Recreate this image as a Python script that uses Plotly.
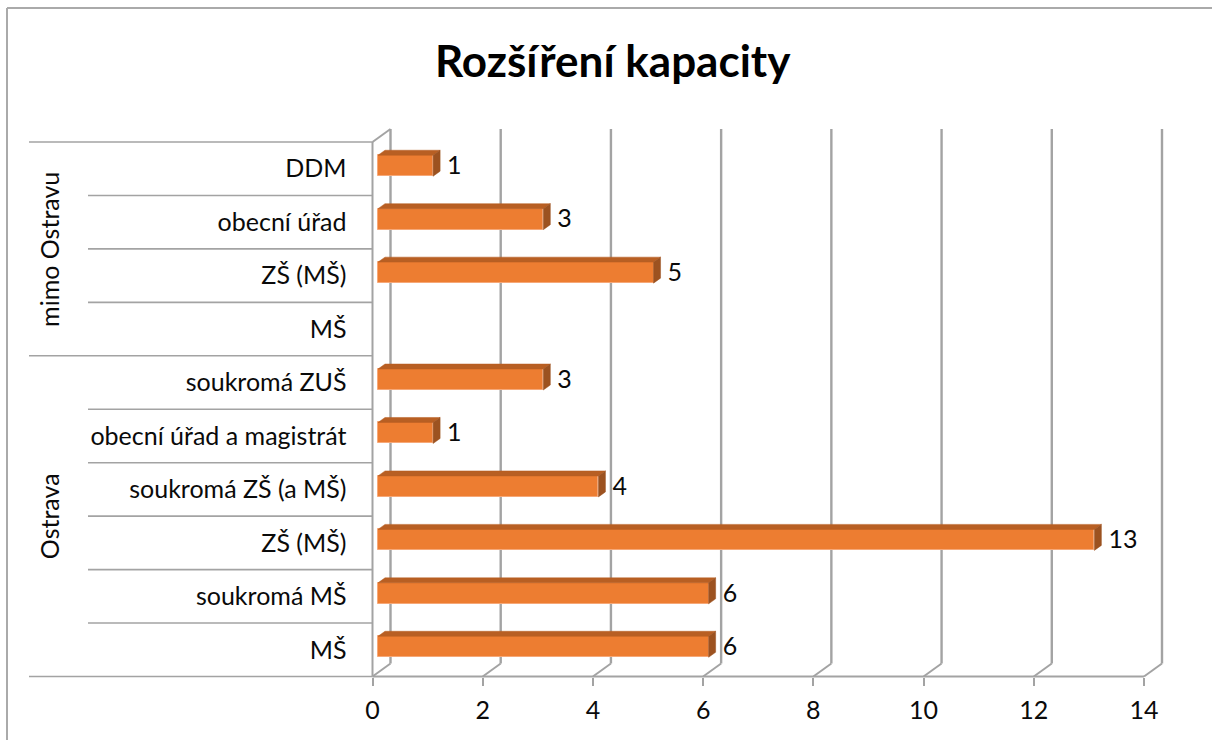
import plotly.graph_objects as go

# ---- data ----
categories = ["MŠ", "soukromá MŠ", "ZŠ (MŠ)", "soukromá ZŠ (a MŠ)", "obecní úřad a magistrát",
              "soukromá ZUŠ", "MŠ", "ZŠ (MŠ)", "obecní úřad", "DDM"]
values = [6, 6, 13, 4, 1, 3, None, 5, 3, 1]
groups = ["Ostrava", "mimo Ostravu"]
group_sizes = [6, 4]
x_ticks = [0, 2, 4, 6, 8, 10, 12, 14]
title = "Rozšíření kapacity"

# ---- geometry (pixels of the 1212x740 canvas) ----
W, H = 1212, 740
X0, X14 = 372.5, 1144.0
Y_BASE, Y_TOP = 676.5, 142.0
PX_X = (X14 - X0) / 14.0
PX_Y = (Y_BASE - Y_TOP) / len(categories)
x_range = [-X0 / PX_X, (W - X0) / PX_X]
y_range = [(Y_BASE - H) / PX_Y, Y_BASE / PX_Y]
DX, DY = 18 / PX_X, 13 / PX_Y           # wall depth
BX, BY = 7 / PX_X, 5 / PX_Y             # bar depth
BASE = 5.5 / PX_X                       # bar start
BAR_H = 21 / PX_Y
BAR_SHIFT = 3.0 / PX_Y

GRID = "#a3a3a3"
FRONT, TOP, SIDE = "#ed7d31", "#b85f23", "#9c5220"
FONT = "Lato"
TXT = "#0a0a0a"
SIZE = 25

n = len(categories)
pos = [i + 0.5 for i in range(n)]
bar_y = [p + BAR_SHIFT for p in pos]

fig = go.Figure()
fig.add_trace(go.Bar(
    y=bar_y, x=values, base=BASE, orientation="h", width=BAR_H,
    marker=dict(color=FRONT, line=dict(color="#f6a878", width=1)), hoverinfo="skip"))

top_x, top_y, side_x, side_y = [], [], [], []
lab_x, lab_y, lab_t = [], [], []
for v, y in zip(values, bar_y):
    if v is None:
        continue
    t, b, l, r = y + BAR_H / 2, y - BAR_H / 2, BASE, BASE + v
    top_x += [l, r, r + BX, l + BX, l, None]
    top_y += [t, t, t + BY, t + BY, t, None]
    side_x += [r, r + BX, r + BX, r, r, None]
    side_y += [t, t + BY, b + BY, b, t, None]
    lab_x.append(r + BX + 7 / PX_X)
    lab_y.append(y - 2 / PX_Y)
    lab_t.append(str(v))
for xs, ys, c in ((top_x, top_y, TOP), (side_x, side_y, SIDE)):
    fig.add_trace(go.Scatter(x=xs, y=ys, mode="lines", fill="toself", fillcolor=c,
                             line=dict(color=c, width=0.5), hoverinfo="skip"))
fig.add_trace(go.Scatter(x=lab_x, y=lab_y, text=lab_t, mode="text", textposition="middle right",
                         textfont=dict(family=FONT, size=SIZE, color=TXT), hoverinfo="skip"))

# ---- walls, floor, dividers ----
shapes = []
def seg(x0, y0, x1, y1, w=2, c=GRID):
    shapes.append(dict(type="line", layer="below", xref="x", yref="y", x0=x0, y0=y0, x1=x1, y1=y1,
                       line=dict(color=c, width=w)))
for t in x_ticks:
    seg(t, 0, t + DX, DY)
    seg(t + DX, DY, t + DX, n + DY, w=2.4)
seg(0, 0, 0, n)
seg(0, n, DX, n + DY)
group_edges = [0]
for s in group_sizes:
    group_edges.append(group_edges[-1] + s)
LEFT_GROUP, LEFT_CAT = (29 - X0) / PX_X, (88 - X0) / PX_X
for k in range(n + 1):
    seg(LEFT_GROUP if k in group_edges else LEFT_CAT, k, 0, k, w=1.6)
seg(0, 0, 14, 0)

# frame of the chart (top and left)
FX, FY = (7 - X0) / PX_X, (Y_BASE - 8) / PX_Y
shapes.append(dict(type="line", layer="below", xref="x", yref="y", x0=FX, y0=FY, x1=x_range[1], y1=FY,
                   line=dict(color="#aaaaaa", width=2)))
shapes.append(dict(type="line", layer="below", xref="x", yref="y", x0=FX, y0=FY, x1=FX, y1=y_range[0],
                   line=dict(color="#aaaaaa", width=2)))

annotations = [
    dict(text=title, xref="paper", yref="paper", x=613 / W, y=1 - 60 / H, xanchor="center", yanchor="middle",
         showarrow=False, font=dict(family=FONT, size=44, color="#000000", weight="bold")),
]
for g, a, b in zip(groups, group_edges[:-1], group_edges[1:]):
    annotations.append(dict(text=g, xref="paper", yref="y", x=49 / W, y=(a + b) / 2, textangle=-90,
                            xanchor="center", yanchor="middle", showarrow=False,
                            font=dict(family=FONT, size=SIZE, color=TXT)))

fig.update_layout(
    width=W, height=H, margin=dict(l=0, r=0, t=0, b=0), autosize=False,
    paper_bgcolor="white", plot_bgcolor="white", showlegend=False, bargap=0,
    shapes=shapes, annotations=annotations,
    xaxis=dict(domain=[0, 1], range=x_range, tickvals=x_ticks, ticktext=[str(t) for t in x_ticks],
               showgrid=False, zeroline=False, showline=False,
               anchor="free", position=(H - Y_BASE) / H, side="bottom",
               ticks="outside", ticklen=8, tickwidth=1.5, tickcolor=GRID, ticklabelstandoff=3,
               tickfont=dict(family=FONT, size=SIZE, color=TXT)),
    yaxis=dict(domain=[0, 1], range=y_range, tickvals=pos, ticktext=categories,
               showgrid=False, zeroline=False, showline=False,
               anchor="free", position=X0 / W, side="left",
               ticks="", ticklabelstandoff=26,
               tickfont=dict(family=FONT, size=SIZE, color=TXT)),
)

fig.write_html("out.html", post_script="document.body.style.margin='0';",
               config={"displayModeBar": False})
